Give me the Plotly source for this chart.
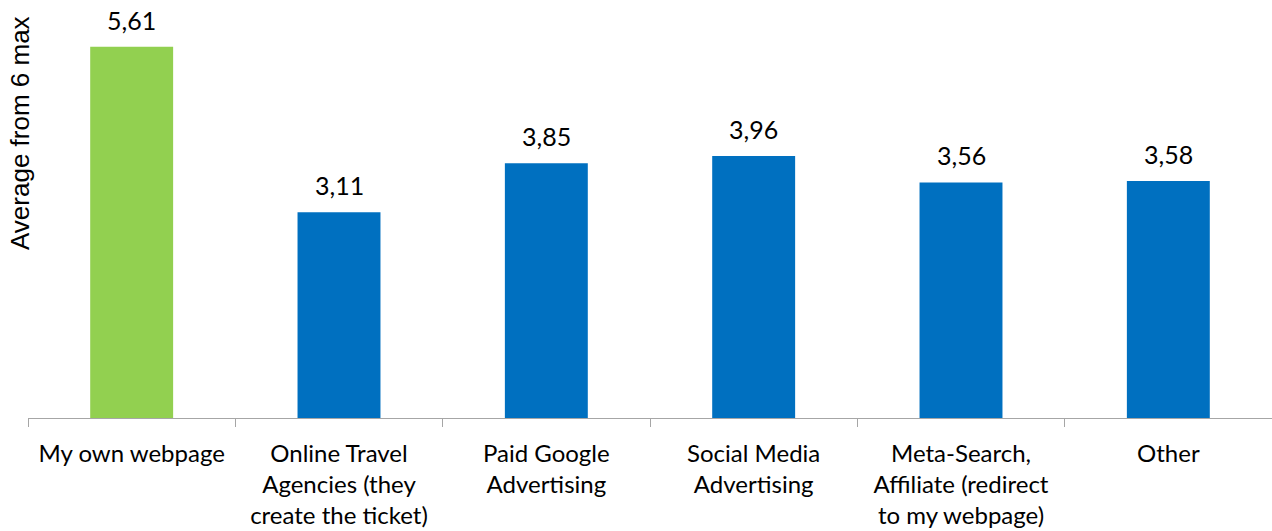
import plotly.graph_objects as go

categories = [
    "My own webpage",
    "Online Travel<br>Agencies (they<br>create the ticket)",
    "Paid Google<br>Advertising",
    "Social Media<br>Advertising",
    "Meta-Search,<br>Affiliate (redirect<br>to my webpage)",
    "Other",
]
values = [5.61, 3.11, 3.85, 3.96, 3.56, 3.58]
value_labels = ["5,61", "3,11", "3,85", "3,96", "3,56", "3,58"]
bar_colors = ["#92D050", "#0070C0", "#0070C0", "#0070C0", "#0070C0", "#0070C0"]

W, H = 1272, 531
M_L, M_R, M_T, M_B = 28, 0, 21, 113

fig = go.Figure(
    go.Bar(
        x=categories,
        y=values,
        marker=dict(color=bar_colors, line=dict(width=0)),
        width=0.4,
        hoverinfo="skip",
    )
)

# value labels above each bar
for c, v, t in zip(categories, values, value_labels):
    fig.add_annotation(
        x=c, y=v, text=t, showarrow=False,
        xref="x", yref="y", yanchor="bottom", yshift=10,
        font=dict(family="Lato", size=25, color="#000000"),
    )

# rotated y-axis title
fig.add_annotation(
    text="Average from 6 max",
    xref="paper", yref="paper",
    x=(20 - M_L) / (W - M_L - M_R), y=(H - M_B - 133) / (H - M_T - M_B),
    xanchor="center", yanchor="middle",
    textangle=-90, showarrow=False,
    font=dict(family="Liberation Sans", size=26, color="#000000"),
)

fig.update_layout(
    width=W, height=H,
    margin=dict(l=M_L, r=M_R, t=M_T, b=M_B),
    paper_bgcolor="white", plot_bgcolor="white",
    showlegend=False,
    xaxis=dict(
        type="category",
        range=[-0.5, len(categories) - 0.5],
        tickson="boundaries",
        ticks="outside", ticklen=8, tickcolor="#A6A6A6", tickwidth=1,
        showline=True, linecolor="#A6A6A6", linewidth=1,
        showgrid=False, zeroline=False,
        tickfont=dict(family="Lato", size=24, color="#000000"),
        ticklabelstandoff=14,
    ),
    yaxis=dict(
        range=[0, 6],
        showticklabels=False, showgrid=False, zeroline=False,
        showline=False, ticks="",
    ),
)

fig.write_html("out.html")
